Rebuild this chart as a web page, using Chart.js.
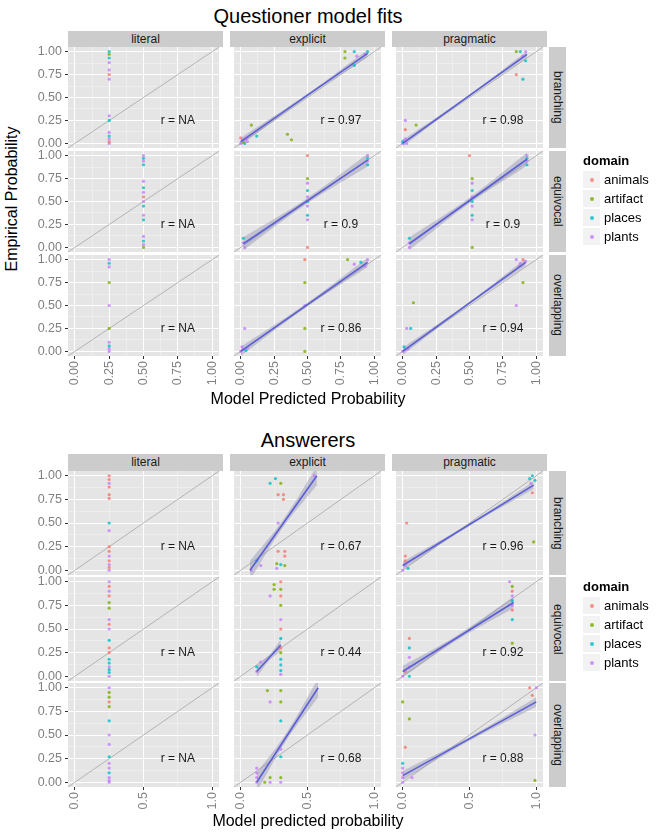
<!DOCTYPE html>
<html>
<head>
<meta charset="utf-8">
<script src="https://cdn.jsdelivr.net/npm/chart.js@4.4.1/dist/chart.umd.min.js"></script>
<style>
body { margin: 0; background: #fff; font-family: "Liberation Sans", Arial, sans-serif; }
#wrap { position: relative; width: 664px; height: 832px; overflow: hidden; }
canvas { position: absolute; }
.strip { position: absolute; background: #CCCCCC; color: #1a1a1a; font-size: 12px; text-align: center; line-height: 16px; }
.rstrip { position: absolute; background: #CCCCCC; color: #1a1a1a; font-size: 12px; writing-mode: vertical-rl; text-align: center; }
.title { position: absolute; font-size: 20px; color: #000; text-align: center; width: 480px; }
.axtitle { position: absolute; font-size: 16px; color: #000; text-align: center; }
.legend { position: absolute; font-size: 13px; color: #000; }
.legend b { display: block; margin-bottom: 2px; }
.key { display: flex; align-items: center; height: 19px; }
.key span.box { width: 17px; height: 17px; background: #F2F2F2; display: inline-flex; align-items: center; justify-content: center; margin-right: 4px; }
.key span.dot { width: 4px; height: 4px; border-radius: 50%; opacity: 0.8; }
</style>
</head>
<body>
<div id="wrap"></div>
<script>
const columns = ['literal', 'explicit', 'pragmatic'];
const rows = ['branching', 'equivocal', 'overlapping'];
const domains = ['animals', 'artifact', 'places', 'plants'];
const domainColors = ['#F8766D', '#7CAE00', '#00BFC4', '#C77CFF'];

const yTicks = [0, 0.25, 0.5, 0.75, 1];
const yMinor = [0.125, 0.375, 0.625, 0.875];
const qxTicks = [0, 0.25, 0.5, 0.75, 1];
const qxMinor = [0.125, 0.375, 0.625, 0.875];
const axTicks = [0, 0.5, 1];
const axMinor = [0.25, 0.75];

// points: [model prediction, empirical, domain index]
const qBranchingLiteral = [[0.25,1.0,2],[0.25,0.97,1],[0.25,0.93,2],[0.25,0.88,3],[0.25,0.8,3],[0.25,0.75,0],[0.25,0.7,3],[0.25,0.3,3],[0.25,0.25,2],[0.25,0.12,3],[0.25,0.08,2],[0.25,0.05,3],[0.25,0.02,0],[0.25,0.0,3]];
const qBranchingExplicit = [[0,0,3],[0.01,0.02,3],[0.02,0.04,3],[0.03,0.0,2],[0.04,0.05,3],[0.0,0.06,0],[0.02,0.01,1],[0.05,0.02,3],[0.08,0.2,1],[0.12,0.08,2],[0.35,0.1,1],[0.38,0.04,1],[0.78,1.0,1],[0.78,0.93,1],[0.85,1.0,2],[0.87,0.95,3],[0.85,0.85,2],[0.95,1.0,2],[0.93,0.97,3]];
const qBranchingPragmatic = [[0,0,3],[0.01,0.03,3],[0.02,0.05,3],[0.0,0.02,2],[0.03,0.0,3],[0.02,0.15,0],[0.02,0.25,3],[0.1,0.2,1],[0.85,1.0,1],[0.88,1.0,2],[0.92,1.0,3],[0.9,0.95,3],[0.92,0.9,2],[0.85,0.75,0],[0.9,0.7,2]];
const qEquivocalLiteral = [[0.5,1.0,3],[0.5,0.97,2],[0.5,0.94,3],[0.5,0.9,2],[0.5,0.72,3],[0.5,0.65,2],[0.5,0.6,3],[0.5,0.55,0],[0.5,0.5,3],[0.5,0.45,2],[0.5,0.35,3],[0.5,0.3,2],[0.5,0.12,3],[0.5,0.07,2],[0.5,0.03,3],[0.5,0.0,1]];
const qEquivocalExplicit = [[0.02,0.05,3],[0.02,0.1,2],[0.03,0.0,3],[0.5,1.0,0],[0.5,0.75,1],[0.5,0.7,3],[0.5,0.62,2],[0.5,0.55,3],[0.5,0.5,2],[0.5,0.45,3],[0.5,0.35,2],[0.5,0.3,3],[0.5,0.0,0],[0.95,1.0,3],[0.95,0.97,2],[0.95,0.94,3],[0.95,0.9,2]];
const qEquivocalPragmatic = [[0.05,0.05,3],[0.05,0.1,2],[0.05,0.0,3],[0.5,1.0,0],[0.52,0.75,1],[0.52,0.7,3],[0.52,0.62,2],[0.52,0.55,3],[0.52,0.5,2],[0.52,0.45,3],[0.52,0.35,2],[0.52,0.3,3],[0.52,0.0,1],[0.93,1.0,3],[0.93,0.97,2],[0.93,0.94,3],[0.93,0.9,2]];
const qOverlappingLiteral = [[0.25,1.0,3],[0.25,0.96,2],[0.25,0.92,3],[0.25,0.75,1],[0.25,0.5,3],[0.25,0.25,1],[0.25,0.1,3],[0.25,0.06,2],[0.25,0.03,3],[0.25,0.0,3]];
const qOverlappingExplicit = [[0,0,3],[0.02,0.02,3],[0.04,0.01,2],[0.05,0.04,3],[0.01,0.05,3],[0.03,0.25,3],[0.48,1.0,0],[0.48,0.75,1],[0.48,0.5,3],[0.48,0.25,1],[0.48,0.0,1],[0.8,1.0,1],[0.85,0.95,3],[0.9,0.97,2],[0.93,0.93,3],[0.95,1.0,3]];
const qOverlappingPragmatic = [[0,0,3],[0.02,0.02,3],[0.04,0.03,3],[0.01,0.05,2],[0.03,0.25,3],[0.06,0.25,2],[0.08,0.53,1],[0.85,1.0,3],[0.88,0.96,3],[0.9,1.0,0],[0.87,0.93,3],[0.92,0.98,3],[0.9,0.75,1],[0.85,0.5,3]];

const aBranchingLiteral = [[0.25,1.0,0],[0.25,0.96,0],[0.25,0.92,3],[0.25,0.88,0],[0.25,0.8,0],[0.25,0.76,0],[0.25,0.5,2],[0.25,0.42,3],[0.25,0.25,0],[0.25,0.2,0],[0.25,0.15,3],[0.25,0.1,0],[0.25,0.06,3],[0.25,0.03,0],[0.25,0.0,3]];
const aBranchingExplicit = [[0.22,0.92,2],[0.26,0.97,2],[0.3,0.92,1],[0.28,0.8,0],[0.32,0.8,0],[0.32,0.75,0],[0.28,0.5,3],[0.15,0.05,3],[0.12,0.1,2],[0.28,0.2,0],[0.33,0.2,0],[0.33,0.15,0],[0.27,0.07,1],[0.3,0.06,2],[0.27,0.02,3],[0.33,0.05,1],[0.08,0.0,3],[0.55,1.0,3]];
const aBranchingPragmatic = [[0.02,0.15,0],[0.02,0.1,0],[0.02,0.05,3],[0.04,0.02,2],[0.0,0.0,3],[0.03,0.5,0],[0.95,0.97,2],[0.97,1.0,2],[0.99,0.95,2],[0.96,0.92,3],[0.97,0.82,0],[0.98,0.3,1]];
const aEquivocalLiteral = [[0.25,1.0,3],[0.25,0.95,0],[0.25,0.9,3],[0.25,0.85,0],[0.25,0.78,1],[0.25,0.72,1],[0.25,0.6,3],[0.25,0.55,0],[0.25,0.5,3],[0.25,0.38,2],[0.25,0.3,0],[0.25,0.25,0],[0.25,0.18,2],[0.25,0.14,2],[0.25,0.1,3],[0.25,0.07,2],[0.25,0.04,2],[0.25,0.0,3]];
const aEquivocalExplicit = [[0.25,0.97,1],[0.25,0.92,1],[0.3,1.0,0],[0.3,0.92,1],[0.22,0.85,3],[0.3,0.85,0],[0.3,0.75,1],[0.3,0.6,3],[0.3,0.5,0],[0.3,0.4,2],[0.3,0.3,0],[0.3,0.25,1],[0.3,0.18,2],[0.3,0.12,2],[0.3,0.06,2],[0.3,0.02,3],[0.12,0.05,3],[0.12,0.1,2],[0.15,0.15,3]];
const aEquivocalPragmatic = [[0.0,0.0,3],[0.02,0.05,0],[0.05,0.0,2],[0.05,0.1,3],[0.05,0.2,3],[0.05,0.3,2],[0.05,0.4,0],[0.8,1.0,3],[0.82,0.95,1],[0.82,0.9,0],[0.82,0.85,3],[0.82,0.8,2],[0.82,0.75,3],[0.82,0.7,0],[0.82,0.6,2],[0.82,0.35,1]];
const aOverlappingLiteral = [[0.25,1.0,3],[0.25,0.95,1],[0.25,0.9,1],[0.25,0.85,0],[0.25,0.8,1],[0.25,0.65,2],[0.25,0.5,3],[0.25,0.4,3],[0.25,0.27,2],[0.25,0.2,3],[0.25,0.15,3],[0.25,0.1,2],[0.25,0.05,3],[0.25,0.02,3],[0.25,0.0,3]];
const aOverlappingExplicit = [[0.2,0.97,1],[0.3,0.97,1],[0.22,0.85,3],[0.3,0.85,1],[0.3,0.65,2],[0.3,0.35,3],[0.3,0.27,2],[0.3,0.05,1],[0.3,0.0,3],[0.22,0.05,1],[0.22,0.0,3],[0.12,0.15,3],[0.12,0.1,3],[0.12,0.05,3],[0.12,0.0,3],[0.18,0.0,1]];
const aOverlappingPragmatic = [[0.0,0.0,3],[0.0,0.05,3],[0.0,0.1,3],[0.0,0.15,3],[0.0,0.2,2],[0.0,0.85,1],[0.05,0.67,1],[0.02,0.37,0],[0.07,0.05,3],[0.95,1.0,0],[1.0,1.0,3],[0.97,0.92,0],[0.99,0.5,3],[0.99,0.02,1]];

// fitted lines: [x0, y0, x1, y1, band start, band middle, band end]
const qFits = [
  [null, [0, 0.02, 0.95, 0.98, 0.04, 0.015, 0.04], [0, 0.0, 0.93, 0.97, 0.035, 0.012, 0.035]],
  [null, [0.02, 0.04, 0.95, 0.95, 0.07, 0.03, 0.07], [0.05, 0.04, 0.93, 0.96, 0.07, 0.03, 0.07]],
  [null, [0, 0.0, 0.95, 0.97, 0.05, 0.02, 0.05], [0, 0.0, 0.92, 0.97, 0.04, 0.015, 0.04]]
];
const aFits = [
  [null, [0.07, 0.0, 0.57, 1.0, 0.1, 0.04, 0.1], [0, 0.05, 0.98, 0.9, 0.04, 0.015, 0.04]],
  [null, [0.12, 0.05, 0.3, 0.33, 0.06, 0.03, 0.06], [0, 0.05, 0.83, 0.78, 0.06, 0.025, 0.06]],
  [null, [0.12, 0.0, 0.58, 1.0, 0.1, 0.04, 0.1], [0, 0.07, 1.0, 0.85, 0.05, 0.02, 0.05]]
];
const qR = [['NA', '0.97', '0.98'], ['NA', '0.9', '0.9'], ['NA', '0.86', '0.94']];
const aR = [['NA', '0.67', '0.96'], ['NA', '0.44', '0.92'], ['NA', '0.68', '0.88']];

const qPoints = [
  [qBranchingLiteral, qBranchingExplicit, qBranchingPragmatic],
  [qEquivocalLiteral, qEquivocalExplicit, qEquivocalPragmatic],
  [qOverlappingLiteral, qOverlappingExplicit, qOverlappingPragmatic]
];
const aPoints = [
  [aBranchingLiteral, aBranchingExplicit, aBranchingPragmatic],
  [aEquivocalLiteral, aEquivocalExplicit, aEquivocalPragmatic],
  [aOverlappingLiteral, aOverlappingExplicit, aOverlappingPragmatic]
];

const wrap = document.getElementById('wrap');
const panelW = 155, colStep = 162, left0 = 68;
const yAxisW = 45, xAxisH = 38, margin = 9;
const fontFamily = '"Liberation Sans", Arial, sans-serif';

const facetPlugin = {
    id: 'facet',
    beforeDraw(chart) {
        const { ctx, chartArea: a } = chart;
        ctx.save();
        ctx.fillStyle = '#E5E5E5';
        ctx.fillRect(a.left, a.top, a.right - a.left, a.bottom - a.top);
        ctx.restore();
    },
    beforeDatasetsDraw(chart) {
        // reference y = x line
        const { ctx, chartArea: a, scales: { x, y } } = chart;
        ctx.save();
        ctx.beginPath();
        ctx.rect(a.left, a.top, a.right - a.left, a.bottom - a.top);
        ctx.clip();
        ctx.strokeStyle = '#A6A6A6';
        ctx.lineWidth = 0.8;
        ctx.beginPath();
        ctx.moveTo(x.getPixelForValue(x.min), y.getPixelForValue(x.min));
        ctx.lineTo(x.getPixelForValue(x.max), y.getPixelForValue(x.max));
        ctx.stroke();
        ctx.restore();
    },
    afterDatasetsDraw(chart, args, opts) {
        const { ctx, scales: { x, y } } = chart;
        ctx.save();
        ctx.font = '12px ' + fontFamily;
        ctx.fillStyle = '#1a1a1a';
        ctx.textAlign = 'center';
        ctx.textBaseline = 'middle';
        ctx.fillText('r = ' + opts.r, x.getPixelForValue(0.75), y.getPixelForValue(0.25));
        ctx.restore();
    }
};

function fmt2(v) { return v.toFixed(2); }
function fmt1(v) { return v.toFixed(1); }

function addDiv(cls, text, style) {
    const d = document.createElement('div');
    d.className = cls;
    d.textContent = text;
    Object.assign(d.style, style);
    wrap.appendChild(d);
    return d;
}

function makeFacet(points, fit, r, isLeft, isBottom, top, left, panelH, xMajor, xMinorList, xFmt) {
    const canvas = document.createElement('canvas');
    const padBottom = isBottom ? 0 : margin;
    const w = panelW + (isLeft ? yAxisW : 0);
    const h = margin + panelH + padBottom + (isBottom ? xAxisH : 0);
    canvas.width = w;
    canvas.height = h;
    canvas.style.left = (left - (isLeft ? yAxisW : 0)) + 'px';
    canvas.style.top = (top - margin) + 'px';
    wrap.appendChild(canvas);

    const datasets = [];
    if (fit) {
        const [x0, y0, x1, y1, b0, bm, b1] = fit;
        const xm = (x0 + x1) / 2, ym = (y0 + y1) / 2;
        datasets.push({
            type: 'line', order: 3,
            data: [{ x: x0, y: y0 + b0 }, { x: xm, y: ym + bm }, { x: x1, y: y1 + b1 }],
            borderWidth: 0, pointRadius: 0, tension: 0.4,
            backgroundColor: 'rgba(140,140,175,0.42)', fill: '+1'
        });
        datasets.push({
            type: 'line', order: 3,
            data: [{ x: x0, y: y0 - b0 }, { x: xm, y: ym - bm }, { x: x1, y: y1 - b1 }],
            borderWidth: 0, pointRadius: 0, tension: 0.4, fill: false
        });
        datasets.push({
            type: 'line', order: 1,
            data: [{ x: x0, y: y0 }, { x: x1, y: y1 }],
            borderColor: '#5B5FD6', borderWidth: 1.6, pointRadius: 0, fill: false
        });
    }
    domains.forEach((d, k) => {
        datasets.push({
            type: 'scatter', order: 2, label: d,
            data: points.filter(p => p[2] === k).map(p => ({ x: p[0], y: p[1] })),
            backgroundColor: domainColors[k] + 'CC', borderWidth: 0, pointRadius: 1.6
        });
    });

    const xAll = xMajor.concat(xMinorList).sort((a, b) => a - b);
    const yAll = yTicks.concat(yMinor).sort((a, b) => a - b);
    const tickFont = { family: fontFamily, size: 12.5 };

    new Chart(canvas, {
        type: 'scatter',
        data: { datasets },
        options: {
            responsive: false,
            animation: false,
            events: [],
            layout: { padding: { top: margin, bottom: padBottom, left: 0, right: 0 } },
            plugins: { legend: { display: false }, tooltip: { enabled: false }, facet: { r } },
            scales: {
                x: {
                    type: 'linear', min: -0.05, max: 1.05,
                    afterBuildTicks: (s) => { s.ticks = xAll.map(v => ({ value: v })); },
                    afterFit: (s) => {
                        s.height = isBottom ? xAxisH : 0;
                        s.paddingLeft = 0; s.paddingRight = 0; s.paddingTop = 0; s.paddingBottom = 0;
                    },
                    border: { display: false },
                    grid: {
                        color: (c) => xMajor.includes(c.tick.value) ? '#FFFFFF' : '#F2F2F2',
                        lineWidth: (c) => xMajor.includes(c.tick.value) ? 1 : 0.6,
                        drawTicks: isBottom, tickLength: 3,
                        tickColor: (c) => xMajor.includes(c.tick.value) ? '#333333' : 'rgba(0,0,0,0)'
                    },
                    ticks: {
                        display: isBottom, minRotation: 90, maxRotation: 90, autoSkip: false,
                        padding: 2, color: '#808080', font: tickFont,
                        callback: (v) => xMajor.includes(v) ? xFmt(v) : ''
                    }
                },
                y: {
                    type: 'linear', min: -0.05, max: 1.05,
                    afterBuildTicks: (s) => { s.ticks = yAll.map(v => ({ value: v })); },
                    afterFit: (s) => {
                        s.width = isLeft ? yAxisW : 0;
                        s.paddingLeft = 0; s.paddingRight = 0; s.paddingTop = 0; s.paddingBottom = 0;
                    },
                    border: { display: false },
                    grid: {
                        color: (c) => yTicks.includes(c.tick.value) ? '#FFFFFF' : '#F2F2F2',
                        lineWidth: (c) => yTicks.includes(c.tick.value) ? 1 : 0.6,
                        drawTicks: isLeft, tickLength: 3,
                        tickColor: (c) => yTicks.includes(c.tick.value) ? '#333333' : 'rgba(0,0,0,0)'
                    },
                    ticks: {
                        display: isLeft, autoSkip: false, padding: 3, color: '#808080', font: tickFont,
                        callback: (v) => yTicks.includes(v) ? fmt2(v) : ''
                    }
                }
            }
        },
        plugins: [facetPlugin]
    });
}

function makeBlock(stripTop, stripH, panelH, rowStep, points, fits, rs, xMajor, xMinorList, xFmt) {
    columns.forEach((c, j) => {
        addDiv('strip', c, {
            left: (left0 + j * colStep) + 'px', top: stripTop + 'px',
            width: panelW + 'px', height: stripH + 'px', lineHeight: stripH + 'px'
        });
    });
    rows.forEach((rname, i) => {
        const top = stripTop + stripH + i * rowStep;
        addDiv('rstrip', rname, {
            left: (left0 + 2 * colStep + panelW + 2) + 'px', top: top + 'px',
            width: '17px', height: panelH + 'px', lineHeight: '17px'
        });
        columns.forEach((c, j) => {
            makeFacet(points[i][j], fits[i][j], rs[i][j], j === 0, i === 2, top, left0 + j * colStep, panelH, xMajor, xMinorList, xFmt);
        });
    });
}

function makeLegend(top) {
    const lg = document.createElement('div');
    lg.className = 'legend';
    lg.style.left = '583px';
    lg.style.top = top + 'px';
    let html = '<b>domain</b>';
    domains.forEach((d, k) => {
        html += '<div class="key"><span class="box"><span class="dot" style="background:' + domainColors[k] + '"></span></span>' + d + '</div>';
    });
    lg.innerHTML = html;
    wrap.appendChild(lg);
}

// Questioner block
addDiv('title', 'Questioner model fits', { left: '68px', top: '5px' });
makeBlock(31, 16, 101, 104, qPoints, qFits, qR, qxTicks, qxMinor, fmt2);
addDiv('axtitle', 'Model Predicted Probability', { left: '68px', top: '390px', width: '480px' });
addDiv('axtitle', 'Empirical Probability', { left: '-138px', top: '190px', width: '300px', transform: 'rotate(-90deg)' });
makeLegend(153);

// Answerers block
addDiv('title', 'Answerers', { left: '68px', top: '429px' });
makeBlock(454, 17, 104, 106, aPoints, aFits, aR, axTicks, axMinor, fmt1);
addDiv('axtitle', 'Model predicted probability', { left: '68px', top: '812px', width: '480px' });
makeLegend(579);
</script>
</body>
</html>
